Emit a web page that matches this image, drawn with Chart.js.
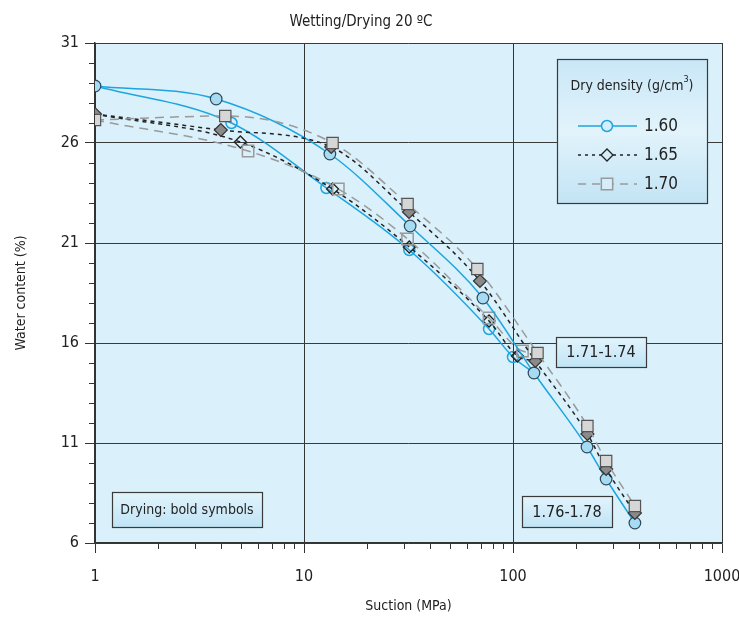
<!DOCTYPE html>
<html>
<head>
<meta charset="utf-8">
<script src="https://cdn.jsdelivr.net/npm/chart.js@4.4.1/dist/chart.umd.min.js"></script>
<style>
  html, body { margin: 0; padding: 0; background: #fff; }
</style>
</head>
<body>
<canvas id="suctionChart" width="739" height="618"></canvas>
<script>
// tick labels
const xTickLabels = [1, 10, 100, 1000];
const yTickLabels = [6, 11, 16, 21, 26, 31];

// 1.60 g/cm3
const dry160Suction = [1, 3.8, 13.3, 32.2, 71.8, 126, 226, 279, 383];
const dry160Water   = [28.85, 28.2, 25.45, 21.85, 18.25, 14.5, 10.8, 9.2, 7.0];
const wet160Suction = [1, 4.5, 12.8, 31.9, 76.8, 100, 126];
const wet160Water   = [28.85, 27.0, 23.75, 20.65, 16.7, 15.3, 14.5];

// 1.65 g/cm3
const dry165Suction = [1, 4.0, 13.5, 31.8, 69.5, 128, 227, 279, 383];
const dry165Water   = [27.45, 26.65, 25.8, 22.55, 19.1, 15.1, 11.45, 9.7, 7.5];
const wet165Suction = [1, 4.96, 13.7, 31.9, 76.8, 105, 128];
const wet165Water   = [27.45, 26.05, 23.7, 20.8, 17.1, 15.35, 15.1];

// 1.70 g/cm3
const dry170Suction = [1, 4.2, 13.7, 31.3, 67.5, 131, 227, 279, 383];
const dry170Water   = [27.15, 27.35, 26.0, 22.95, 19.7, 15.5, 11.85, 10.1, 7.85];
const wet170Suction = [1, 5.4, 14.6, 31.3, 76.8, 111, 131];
const wet170Water   = [27.15, 25.6, 23.7, 21.2, 17.25, 15.6, 15.5];

const FONT = "'Liberation Sans Narrow', 'DejaVu Sans Condensed', 'Roboto', sans-serif";
const TEXT = '#222';
const BLUE = '#1ca5df';
const GREY = '#9a9a9a';

Chart.defaults.font.family = FONT;

const pts = (xs, ys) => xs.map((x, i) => ({ x: x, y: ys[i] }));
// wetting curves share their end points with the drying curve, no open symbol there
const hideEnds = ctx => (ctx.dataIndex === 0 || ctx.dataIndex === ctx.dataset.data.length - 1) ? 0 : ctx.dataset.symbolSize;

function line(data, color, dash, extra) {
  return Object.assign({
    data: data,
    borderColor: color,
    borderWidth: 1.5,
    borderDash: dash,
    cubicInterpolationMode: 'monotone',
    fill: false,
    pointBorderWidth: 1.2
  }, extra);
}

const datasets = [
  line(pts(dry170Suction, dry170Water), GREY, [9, 6], { pointStyle: 'rect', pointRadius: 8, pointBackgroundColor: '#d6d6d6', pointBorderColor: '#555' }),
  line(pts(dry165Suction, dry165Water), '#222', [4, 4], { pointStyle: 'rectRot', pointRadius: 6.5, pointBackgroundColor: '#8a8a8a', pointBorderColor: '#333' }),
  line(pts(dry160Suction, dry160Water), BLUE, [], { pointStyle: 'circle', pointRadius: 5.8, pointBackgroundColor: '#a6dbf4', pointBorderColor: '#2f4858' }),
  line(pts(wet170Suction, wet170Water), GREY, [9, 6], { pointStyle: 'rect', symbolSize: 8, pointRadius: hideEnds, pointBackgroundColor: 'rgba(0,0,0,0)', pointBorderColor: GREY, pointBorderWidth: 1.5 }),
  line(pts(wet165Suction, wet165Water), '#222', [4, 4], { pointStyle: 'rectRot', symbolSize: 6, pointRadius: hideEnds, pointBackgroundColor: 'rgba(0,0,0,0)', pointBorderColor: '#222', pointBorderWidth: 1.3 }),
  line(pts(wet160Suction, wet160Water), BLUE, [], { pointStyle: 'circle', symbolSize: 5.5, pointRadius: hideEnds, pointBackgroundColor: 'rgba(0,0,0,0)', pointBorderColor: BLUE, pointBorderWidth: 1.5 })
];

const plotBg = {
  id: 'plotBg',
  beforeDraw(chart) {
    const { ctx, chartArea: a } = chart;
    ctx.save();
    ctx.fillStyle = '#daf0fb';
    ctx.fillRect(a.left, a.top, a.right - a.left, a.bottom - a.top);
    ctx.restore();
  }
};

const minorTicks = {
  id: 'minorTicks',
  afterDraw(chart) {
    const { ctx, chartArea: a, scales: { x, y } } = chart;
    ctx.save();
    ctx.strokeStyle = '#333';
    ctx.lineWidth = 1;
    ctx.beginPath();
    xTickLabels.slice(0, -1).forEach(dec => {
      for (let k = 2; k <= 9; k++) {
        const px = Math.round(x.getPixelForValue(dec * k)) + 0.5;
        ctx.moveTo(px, a.bottom);
        ctx.lineTo(px, a.bottom + 6);
      }
    });
    for (let v = y.min; v <= y.max; v++) {
      if (yTickLabels.includes(v)) continue;
      const py = Math.round(y.getPixelForValue(v)) + 0.5;
      ctx.moveTo(a.left - 6, py);
      ctx.lineTo(a.left, py);
    }
    ctx.stroke();
    ctx.restore();
  }
};

function drawBox(ctx, x, y, w, h, stops) {
  const g = ctx.createLinearGradient(0, y, 0, y + h);
  stops.forEach((c, i) => g.addColorStop(i / (stops.length - 1), c));
  ctx.fillStyle = g;
  ctx.fillRect(x, y, w, h);
  ctx.strokeStyle = '#3a3a3a';
  ctx.lineWidth = 1.2;
  ctx.strokeRect(x + 0.5, y + 0.5, w, h);
}

function drawSymbol(ctx, style, cx, cy, r, color, width) {
  ctx.save();
  ctx.setLineDash([]);
  ctx.strokeStyle = color;
  ctx.lineWidth = width;
  ctx.fillStyle = '#d6eef9';
  ctx.beginPath();
  if (style === 'circle') {
    ctx.arc(cx, cy, r, 0, Math.PI * 2);
  } else if (style === 'rectRot') {
    ctx.moveTo(cx, cy - r); ctx.lineTo(cx + r, cy); ctx.lineTo(cx, cy + r); ctx.lineTo(cx - r, cy); ctx.closePath();
  } else {
    const s = r * Math.SQRT1_2;
    ctx.rect(cx - s, cy - s, 2 * s, 2 * s);
  }
  ctx.fill();
  ctx.stroke();
  ctx.restore();
}

const boxes = {
  id: 'boxes',
  afterDraw(chart) {
    const { ctx, chartArea: a } = chart;
    ctx.save();
    ctx.fillStyle = TEXT;
    ctx.textBaseline = 'middle';

    // legend
    const lx = a.right - 165, ly = a.top + 16;
    drawBox(ctx, lx, ly, 150, 144, ['#c9e7f7', '#e2f3fb', '#c3e4f5']);
    ctx.fillStyle = TEXT;
    const t1 = 'Dry density (g/cm', t2 = ')';
    ctx.font = '14px ' + FONT;
    const w1 = ctx.measureText(t1).width, w3 = ctx.measureText(t2).width;
    ctx.font = '9px ' + FONT;
    const w2 = ctx.measureText('3').width;
    const tx = lx + 75 - (w1 + w2 + w3) / 2;
    ctx.textAlign = 'left';
    ctx.font = '14px ' + FONT;
    ctx.fillText(t1, tx, ly + 27);
    ctx.font = '9px ' + FONT;
    ctx.fillText('3', tx + w1, ly + 21);
    ctx.font = '14px ' + FONT;
    ctx.fillText(t2, tx + w1 + w2, ly + 27);

    const rows = [
      { label: '1.60', color: BLUE, dash: [], style: 'circle', r: 5.5, sw: 1.5 },
      { label: '1.65', color: '#222', dash: [3, 4], style: 'rectRot', r: 6, sw: 1.3 },
      { label: '1.70', color: GREY, dash: [8, 6], style: 'rect', r: 8, sw: 1.5 }
    ];
    rows.forEach((row, i) => {
      const ry = ly + 67 + i * 29;
      ctx.save();
      ctx.strokeStyle = row.color;
      ctx.lineWidth = 1.5;
      ctx.setLineDash(row.dash);
      ctx.beginPath();
      ctx.moveTo(lx + 21, ry);
      ctx.lineTo(lx + 80, ry);
      ctx.stroke();
      ctx.restore();
      drawSymbol(ctx, row.style, lx + 50, ry, row.r, row.color, row.sw);
      ctx.fillStyle = TEXT;
      ctx.font = '17px ' + FONT;
      ctx.textAlign = 'left';
      ctx.fillText(row.label, lx + 87, ry + 1);
    });

    // range and note boxes
    const notes = [
      { text: '1.71-1.74', x: a.right - 166, y: a.top + 294, w: 90, h: 30, size: 16 },
      { text: '1.76-1.78', x: a.right - 200, y: a.top + 453, w: 90, h: 31, size: 16 },
      { text: 'Drying: bold symbols', x: a.left + 17, y: a.top + 449, w: 150, h: 35, size: 14 }
    ];
    notes.forEach(n => {
      drawBox(ctx, n.x, n.y, n.w, n.h, ['#e2f4fc', '#c0e4f6']);
      ctx.fillStyle = TEXT;
      ctx.font = n.size + 'px ' + FONT;
      ctx.textAlign = 'center';
      ctx.fillText(n.text, n.x + n.w / 2, n.y + n.h / 2 + 1);
    });
    ctx.restore();
  }
};

new Chart(document.getElementById('suctionChart'), {
  type: 'line',
  data: { datasets: datasets },
  plugins: [plotBg, minorTicks, boxes],
  options: {
    responsive: false,
    animation: false,
    parsing: false,
    layout: { padding: { left: 0, right: 17, top: 0, bottom: 0 } },
    plugins: {
      legend: { display: false },
      tooltip: { enabled: false },
      title: {
        display: true,
        text: 'Wetting/Drying 20 ºC',
        color: TEXT,
        font: { size: 15, weight: 'normal' },
        padding: { top: 13, bottom: 12 }
      }
    },
    scales: {
      x: {
        type: 'logarithmic',
        min: 1,
        max: 1000,
        afterBuildTicks: s => { s.ticks = xTickLabels.map(v => ({ value: v })); },
        afterFit: s => { s.height = 75; s.paddingRight = 17; },
        ticks: { callback: v => String(v), color: TEXT, font: { size: 16 }, padding: 14, maxRotation: 0, autoSkip: false },
        grid: { color: '#333', lineWidth: 1, tickLength: 10, tickColor: '#333' },
        border: { color: '#333', width: 1.5 },
        title: { display: true, text: 'Suction (MPa)', color: TEXT, font: { size: 14 }, padding: { top: 0, bottom: 3 } }
      },
      y: {
        min: 6,
        max: 31,
        afterBuildTicks: s => { s.ticks = yTickLabels.map(v => ({ value: v })); },
        afterFit: s => { s.width = 95; },
        ticks: { color: TEXT, font: { size: 16 }, padding: 6, autoSkip: false },
        grid: { color: '#3a3a3a', lineWidth: 1, tickLength: 10, tickColor: '#333' },
        border: { color: '#333', width: 1.5 },
        title: { display: true, text: 'Water content (%)', color: TEXT, font: { size: 14 }, padding: { top: 13, bottom: 0 } }
      }
    }
  }
});
</script>
</body>
</html>
